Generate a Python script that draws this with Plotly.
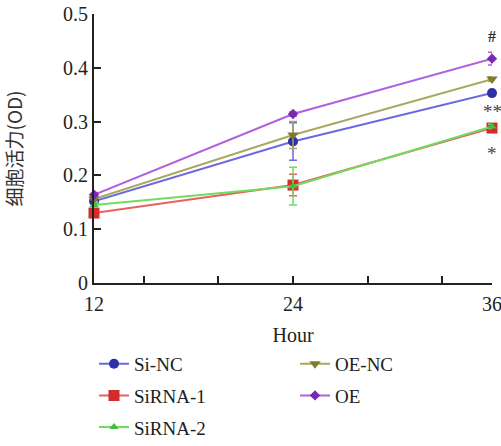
import plotly.graph_objects as go

hours = [12, 24, 36]
si_nc = [0.152, 0.263, 0.353]
si_nc_err = [0.004, 0.035, 0.004]
sirna1 = [0.130, 0.182, 0.288]
sirna1_err = [0.004, 0.020, 0.006]
sirna2 = [0.145, 0.180, 0.291]
sirna2_err = [0.004, 0.035, 0.004]
oe_nc = [0.156, 0.275, 0.379]
oe_nc_err = [0.004, 0.025, 0.004]
oe = [0.164, 0.314, 0.417]
oe_err = [0.004, 0.004, 0.012]

series = [
    ("Si-NC", si_nc, si_nc_err, "#6a6ae0", "#2f2fa8", "circle", 10, "legend"),
    ("SiRNA-1", sirna1, sirna1_err, "#e86060", "#d42c2c", "square", 11, "legend"),
    ("SiRNA-2", sirna2, sirna2_err, "#70dc60", "#40c040", "triangle-up", 8, "legend"),
    ("OE-NC", oe_nc, oe_nc_err, "#a8a860", "#7e7a30", "triangle-down", 10, "legend2"),
    ("OE", oe, oe_err, "#b060e0", "#7a28b0", "diamond", 8, "legend2"),
]

xticks = [12, 15, 19.5, 24, 28.5, 33, 36]
xticklabels = ["12", "", "", "24", "", "", "36"]
yticks = [0, 0.1, 0.2, 0.3, 0.4, 0.5]
yticklabels = ["0", "0.1", "0.2", "0.3", "0.4", "0.5"]

fig = go.Figure()
for name, vals, err, lc, mc, sym, sz, leg in series:
    fig.add_trace(go.Scatter(
        x=hours, y=vals, name=name, mode="lines+markers",
        line=dict(color=lc, width=2),
        marker=dict(color=mc, symbol=sym, size=sz),
        error_y=dict(type="data", array=err, color=lc, thickness=1.5, width=4),
        legend=leg, legendgroup=name, cliponaxis=False,
    ))

serif = "Liberation Serif"
fig.add_annotation(x=36, y=0.458, text="<b>#</b>", showarrow=False,
                   font=dict(size=16, color="#333333", family=serif))
fig.add_annotation(x=36, y=0.318, text="**", showarrow=False,
                   font=dict(size=19, color="#444444", family=serif))
fig.add_annotation(x=36, y=0.240, text="*", showarrow=False,
                   font=dict(size=19, color="#444444", family=serif))

fig.update_layout(
    width=501, height=446,
    margin=dict(l=94, r=9, t=14, b=163, autoexpand=False),
    plot_bgcolor="white", paper_bgcolor="white",
    font=dict(family=serif, size=20, color="#222222"),
    showlegend=True,
    xaxis=dict(range=[12, 36], tickvals=xticks, ticktext=xticklabels,
               ticks="inside", ticklen=7, tickwidth=1.5, tickcolor="#222222",
               showline=True, linewidth=2, linecolor="#222222",
               showgrid=False, zeroline=False, ticklabelstandoff=2,
               ticklabeloverflow="allow",
               title=dict(text="Hour", standoff=14, font=dict(size=20, family=serif))),
    yaxis=dict(range=[0, 0.5], tickvals=yticks, ticktext=yticklabels,
               ticks="inside", ticklen=7, tickwidth=1.5, tickcolor="#222222",
               showline=True, linewidth=2, linecolor="#222222",
               showgrid=False, zeroline=False,
               ticklabeloverflow="allow",
               title=dict(text="细胞活力(OD)", standoff=40,
                          font=dict(size=19, family="Noto Sans CJK SC", color="#333333"))),
    legend=dict(x=0.0, y=-0.23, xanchor="left", yanchor="top",
                orientation="v", tracegroupgap=4, bgcolor="rgba(0,0,0,0)",
                font=dict(size=19, family=serif)),
    legend2=dict(x=0.505, y=-0.23, xanchor="left", yanchor="top",
                 orientation="v", tracegroupgap=4, bgcolor="rgba(0,0,0,0)",
                 font=dict(size=19, family=serif)),
)

fig.write_html("out.html", config={"displayModeBar": False},
               post_script="document.body.style.margin='0px';")
